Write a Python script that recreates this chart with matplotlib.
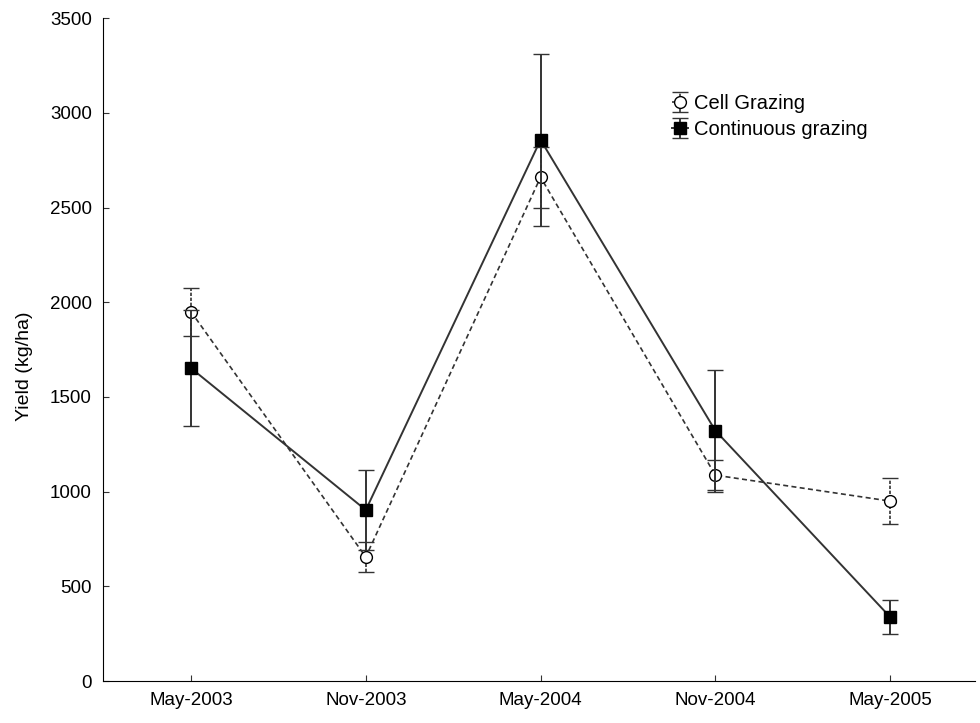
import matplotlib
matplotlib.use("Agg")
from matplotlib import pyplot as plt

plt.rcParams['font.family'] = ['Liberation Sans', 'DejaVu Sans']

dates = ['May-2003', 'Nov-2003', 'May-2004', 'Nov-2004', 'May-2005']
cell_yield = [1950, 655, 2660, 1087, 950]
cell_err = [127, 78, 160, 80, 122]
cont_yield = [1652, 903, 2857, 1322, 338]
cont_err = [305, 211, 455, 322, 90]

x = list(range(len(dates)))

fig = plt.figure(figsize=(9.8, 7.23), dpi=100)
ax = fig.add_axes([0.105, 0.058, 0.89, 0.917])

cell = ax.errorbar(x, cell_yield, yerr=cell_err, fmt='o', ls=(0, (3, 2)), color='#333333',
                   mfc='white', mec='black', ms=8.5, capsize=6, elinewidth=1.2,
                   lw=1.2, label='Cell Grazing', zorder=3)
for bar in cell[2]:
    bar.set_linestyle((0, (2, 1)))
cont = ax.errorbar(x, cont_yield, yerr=cont_err, fmt='s', ls='-', color='#333333',
                   mfc='black', mec='black', ms=9, capsize=6, elinewidth=1.4,
                   lw=1.4, label='Continuous grazing', zorder=4)

ax.set_xlim(-0.504, 4.486)
ax.set_ylim(0, 3500)
ax.set_xticks(x)
ax.set_xticklabels(dates)
ax.set_yticks(range(0, 3501, 500))
ax.tick_params(direction='in', length=4, labelsize=13.5, color='#333333')
ax.tick_params(axis='x', pad=8)
ax.tick_params(axis='y', pad=8)
ax.spines['top'].set_visible(False)
ax.spines['right'].set_visible(False)
ax.set_ylabel('Yield (kg/ha)', fontsize=14)
ax.yaxis.set_label_coords(-0.080, 0.475)

ax.legend(loc='upper left', bbox_to_anchor=(0.6525, 0.885), frameon=False, fontsize=14.5,
          handlelength=0.8, handletextpad=0.3, labelspacing=0.35, borderaxespad=0,
          borderpad=0)

plt.savefig('out.png', dpi=100)
